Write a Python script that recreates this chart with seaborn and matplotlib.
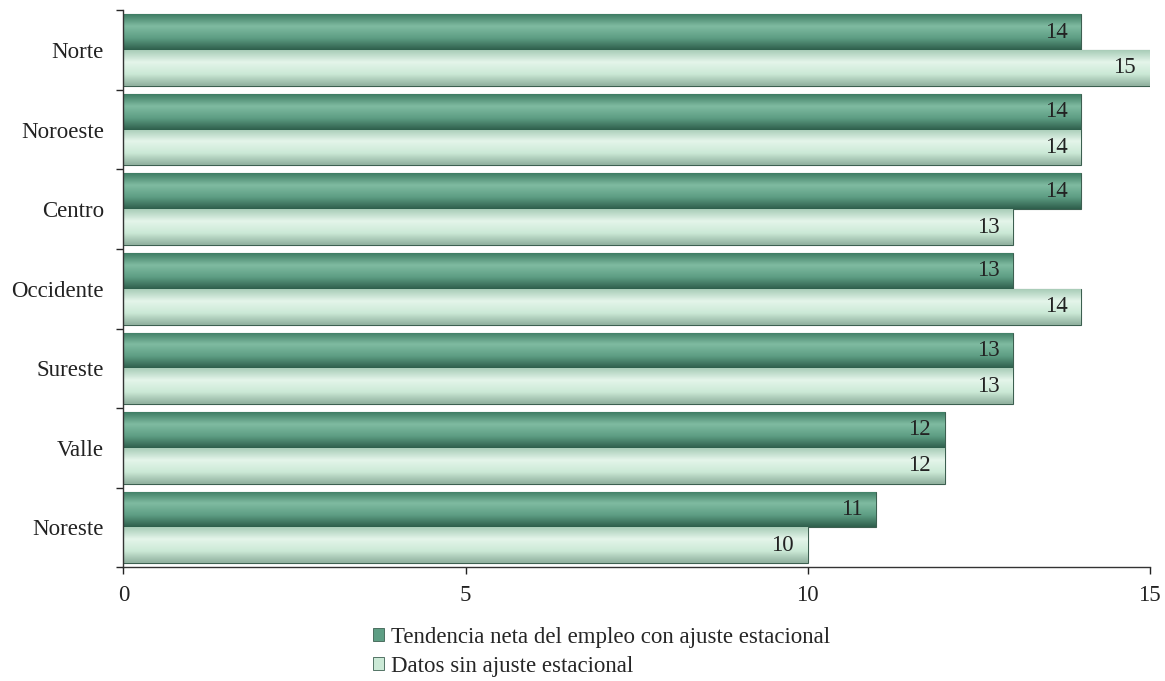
import numpy as np
import pandas as pd
import matplotlib.pyplot as plt
import seaborn as sns
from matplotlib.colors import LinearSegmentedColormap

regions = ["Norte", "Noroeste", "Centro", "Occidente", "Sureste", "Valle", "Noreste"]
con_ajuste = [14, 14, 14, 13, 13, 12, 11]
sin_ajuste = [15, 14, 13, 14, 13, 12, 10]
series = ["Tendencia neta del empleo con ajuste estacional", "Datos sin ajuste estacional"]
xticks = [0, 5, 10, 15]

df = pd.DataFrame({
    "region": regions * 2,
    "valor": con_ajuste + sin_ajuste,
    "serie": [series[0]] * len(regions) + [series[1]] * len(regions),
})

sns.set_style("white")
plt.rcParams['font.family'] = ['Liberation Serif', 'DejaVu Serif']

dark = "#5e9e84"
light = "#cbe9d6"
palette = {series[0]: dark, series[1]: light}

fig = plt.figure(figsize=(11.65, 6.81), dpi=100)
ax = fig.add_axes([0.106, 0.167, 0.881, 0.818])

sns.barplot(data=df, y="region", x="valor", hue="serie", palette=palette,
            order=regions, hue_order=series, width=0.9, ax=ax,
            edgecolor="#3c5f50", linewidth=0.8, legend=True)

# gradient shading on each bar for a tube look
grad_dark = LinearSegmentedColormap.from_list("gd", ["#3f7d64", "#7fbba1", "#5e9e84", "#2f5f4c"])
grad_light = LinearSegmentedColormap.from_list("gl", ["#a9cdb8", "#e4f5ea", "#cbe9d6", "#90b09e"])
grad = np.linspace(0, 1, 64).reshape(-1, 1)
n = len(regions)
for i, p in enumerate(ax.patches[:2 * n]):
    cmap = grad_dark if i < n else grad_light
    x0, y0 = p.get_x(), p.get_y()
    w, h = p.get_width(), p.get_height()
    im = ax.imshow(grad, cmap=cmap, aspect="auto",
                   extent=[x0, x0 + w, y0 + h, y0], zorder=p.get_zorder() + 0.1)
    im.set_clip_path(p)
    ax.text(x0 + w - 0.2, y0 + h / 2, str(int(w)), ha="right", va="center",
            fontsize=16.5, color="#222222", zorder=5)

ax.set_xlim(0, 15)
ax.set_ylim(n - 0.5, -0.5)
ax.set_xticks(xticks)
ax.set_xlabel("")
ax.set_ylabel("")
ax.tick_params(axis="both", labelsize=16.5, colors="#222222")
ax.tick_params(axis="y", length=0, pad=14)
ax.tick_params(axis="x", length=5, width=1, direction="out", bottom=True, pad=8)
ax.set_yticks(np.arange(-0.5, n, 1), minor=True)
ax.tick_params(axis="y", which="minor", length=5, width=1, direction="out", left=True)
for s in ["top", "right"]:
    ax.spines[s].set_visible(False)
for s in ["left", "bottom"]:
    ax.spines[s].set_color("#333333")
    ax.spines[s].set_linewidth(1.0)

ax.get_legend().remove()
handles = [plt.Rectangle((0, 0), 1, 1, facecolor=c, edgecolor="#3c5f50", linewidth=0.6)
           for c in [dark, light]]
fig.legend(handles, series, loc="upper left", bbox_to_anchor=(0.312, 0.093),
           frameon=False, fontsize=16.5, handlelength=0.5, handleheight=0.5,
           handletextpad=0.3, labelspacing=0.35, borderaxespad=0,
           bbox_transform=fig.transFigure)

fig.savefig("out.png", dpi=100)
